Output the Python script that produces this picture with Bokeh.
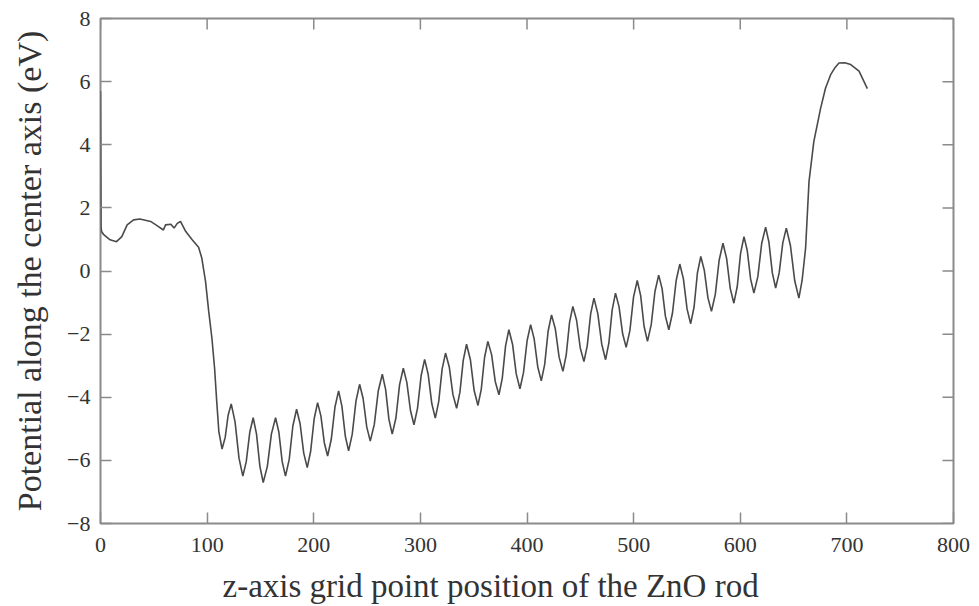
import math
from bokeh.plotting import figure
from bokeh.models import LinearAxis, FixedTicker, Range1d, Label
from bokeh.embed import file_html
from bokeh.resources import INLINE

# ---- data ----
x_ticks = [0, 100, 200, 300, 400, 500, 600, 700, 800]
y_ticks = [-8, -6, -4, -2, 0, 2, 4, 6, 8]

# vacuum / surface region before the rod
lead_x = [0, 0.5, 1, 3, 9, 15, 20, 25, 31, 37, 47, 53, 59, 61, 66, 69, 72, 75, 80, 86, 92, 95,
          98.5, 101.5, 104.5, 107, 109, 111]
lead_y = [5.7, 1.4, 1.25, 1.15, 0.99, 0.93, 1.09, 1.46, 1.62, 1.65, 1.57, 1.44, 1.30, 1.46, 1.48,
          1.36, 1.51, 1.57, 1.25, 0.99, 0.75, 0.41, -0.33, -1.28, -2.13, -3.08, -4.13, -5.09]

# oscillating region inside the ZnO rod
osc_x = [114.0, 116.9, 119.7, 122.6, 126.2, 129.9, 133.5, 136.7, 140.0, 143.2, 146.3, 149.5,
         152.6, 156.5, 160.3, 164.2, 167.3, 170.4, 173.5, 177.0, 180.4, 183.9, 187.2, 190.6,
         193.9, 197.1, 200.4, 203.6, 206.7, 209.9, 213.0, 216.4, 219.9, 223.3, 226.4, 229.6,
         232.7, 236.1, 239.6, 243.0, 246.3, 249.7, 253.0, 256.8, 260.5, 264.3, 267.4, 270.5,
         273.6, 277.1, 280.5, 284.0, 287.3, 290.7, 294.0, 297.3, 300.7, 304.0, 307.3, 310.7,
         314.0, 317.2, 320.4, 323.6, 327.1, 330.5, 334.0, 337.1, 340.2, 343.3, 346.9, 350.4,
         354.0, 357.1, 360.2, 363.3, 366.8, 370.2, 373.7, 376.8, 379.9, 383.0, 386.5, 389.9,
         393.4, 396.7, 400.1, 403.4, 406.7, 410.1, 413.4, 416.6, 419.8, 423.0, 426.6, 430.1,
         433.7, 436.8, 439.9, 443.0, 446.5, 449.9, 453.4, 456.5, 459.7, 462.8, 466.4, 470.1,
         473.7, 476.8, 479.9, 483.0, 486.3, 489.7, 493.0, 496.5, 499.9, 503.4, 506.6, 509.8,
         513.0, 516.5, 520.0, 523.5, 526.7, 529.8, 533.0, 536.4, 539.9, 543.3, 546.7, 550.1,
         553.5, 556.7, 559.8, 563.0, 566.3, 569.7, 573.0, 576.6, 580.2, 583.8, 587.2, 590.6,
         594.0, 597.2, 600.3, 603.5, 606.6, 609.7, 612.8, 616.5, 620.1, 623.8, 626.9, 630.1,
         633.2, 636.5, 639.9, 643.2, 647.1, 651.1, 655.0]
osc_y = [-5.64, -5.28, -4.57, -4.21, -4.78, -5.93, -6.50, -6.04, -5.11, -4.65, -5.16, -6.19,
         -6.70, -6.19, -5.16, -4.65, -5.11, -6.04, -6.50, -5.97, -4.91, -4.38, -4.84, -5.77,
         -6.23, -5.71, -4.68, -4.17, -4.59, -5.44, -5.86, -5.34, -4.31, -3.80, -4.28, -5.23,
         -5.70, -5.17, -4.12, -3.59, -4.04, -4.94, -5.39, -4.86, -3.80, -3.27, -3.75, -4.70,
         -5.17, -4.65, -3.60, -3.08, -3.53, -4.42, -4.87, -4.35, -3.32, -2.80, -3.27, -4.20,
         -4.66, -4.14, -3.11, -2.60, -3.04, -3.91, -4.35, -3.84, -2.83, -2.32, -2.81, -3.78,
         -4.26, -3.75, -2.74, -2.23, -2.65, -3.50, -3.92, -3.40, -2.37, -1.86, -2.33, -3.26,
         -3.73, -3.22, -2.21, -1.70, -2.15, -3.04, -3.48, -2.96, -1.91, -1.39, -1.84, -2.73,
         -3.18, -2.66, -1.63, -1.12, -1.56, -2.43, -2.87, -2.37, -1.36, -0.86, -1.35, -2.32,
         -2.81, -2.28, -1.23, -0.70, -1.13, -1.99, -2.42, -1.89, -0.83, -0.30, -0.78, -1.75,
         -2.23, -1.70, -0.65, -0.13, -0.56, -1.43, -1.86, -1.34, -0.30, 0.22, -0.25, -1.20,
         -1.67, -1.14, -0.07, 0.46, 0.02, -0.85, -1.28, -0.74, 0.34, 0.88, 0.40, -0.55,
         -1.02, -0.49, 0.56, 1.09, 0.64, -0.25, -0.70, -0.18, 0.87, 1.39, 0.91, -0.06,
         -0.54, -0.06, 0.89, 1.36, 0.80, -0.31, -0.86]

# rise into the vacuum at the other end
tail_x = [658.0, 661.3, 664.5, 669.0, 675.4, 680.0, 684.8, 689.0, 692.6, 698.0, 703.6, 711.4, 719.2]
tail_y = [-0.3, 0.73, 2.84, 4.10, 5.16, 5.80, 6.22, 6.45, 6.59, 6.60, 6.54, 6.33, 5.78]

xs = lead_x + osc_x + tail_x
ys = lead_y + osc_y + tail_y

x_label = "z-axis grid point position of the ZnO rod"
y_label = "Potential along the center axis (eV)"

FONT = "Liberation Serif"
TXT = "#333333"
FRAME = "#8a8a8a"
TICK_LEN = 11

p = figure(width=977, height=605, output_backend="svg", toolbar_location=None,
           x_range=Range1d(0, 800), y_range=Range1d(-8, 8),
           x_axis_location=None, y_axis_location=None,
           min_border_left=100, min_border_right=24, min_border_top=18, min_border_bottom=82)
p.grid.visible = False
p.outline_line_color = FRAME
p.outline_line_width = 2
p.background_fill_color = "white"
p.border_fill_color = "white"

def style(ax):
    ax.axis_line_color = None
    ax.major_tick_line_color = FRAME
    ax.major_tick_line_width = 1.5
    ax.major_tick_in = TICK_LEN
    ax.major_tick_out = 0
    ax.minor_tick_line_color = None
    ax.major_label_text_font = FONT
    ax.major_label_text_color = TXT
    ax.major_label_text_font_size = "22px"
    ax.axis_label_text_font = FONT
    ax.axis_label_text_color = TXT
    ax.axis_label_text_font_style = "normal"

bx = LinearAxis(ticker=FixedTicker(ticks=x_ticks))
style(bx)
bx.major_label_standoff = 14
p.add_layout(bx, "below")

# x-axis title, placed in the panel below the tick labels (left of the frame centre, as in the reference)
xt = Label(text=x_label, x=122, y=5, x_units="screen", y_units="screen",
           text_align="left", text_baseline="alphabetic",
           text_font=FONT, text_font_size="33px", text_color=TXT)
p.add_layout(xt, "below")

ly = LinearAxis(ticker=FixedTicker(ticks=y_ticks), axis_label=y_label)
style(ly)
ly.axis_label_text_font_size = "34px"
ly.major_label_standoff = 10
ly.axis_label_standoff = 16
p.add_layout(ly, "left")

# mirrored inward ticks on the top and right edges of the frame
p.ray(x=x_ticks, y=y_ticks[-1], length=TICK_LEN, length_units="screen",
      angle=-math.pi / 2, line_color=FRAME, line_width=1.5)
p.ray(x=x_ticks[-1], y=y_ticks, length=TICK_LEN, length_units="screen",
      angle=math.pi, line_color=FRAME, line_width=1.5)

p.line(xs, ys, line_color="#4a4a4a", line_width=1.6)

open("out.html", "w").write(file_html(p, INLINE))
